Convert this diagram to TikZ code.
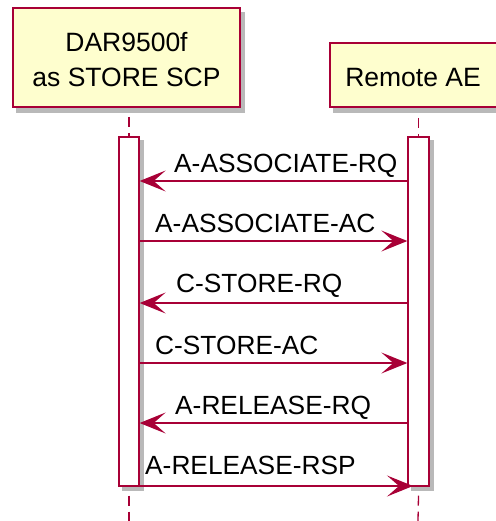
\documentclass[tikz,border=0pt]{standalone}
\usepackage{fontspec}
\setmainfont{Liberation Sans}
\usetikzlibrary{arrows.meta,backgrounds}
\definecolor{pborder}{HTML}{A80036}
\definecolor{pfill}{HTML}{FEFECE}
\definecolor{shadowgray}{HTML}{A8A8A8}
\begin{document}
\begin{tikzpicture}[x=1pt,y=-1pt,
  part/.style={draw=pborder,fill=pfill,line width=1.6pt,inner sep=0pt},
  actbar/.style={draw=pborder,fill=white,line width=1.3pt,inner sep=0pt},
  shade/.style={fill=shadowgray,opacity=0.8},
  life/.style={draw=pborder,line width=1.3pt,dash pattern=on 10pt off 6pt},
  msg/.style={draw=pborder,line width=1.3pt,
    -{Stealth[length=26pt,width=21pt,inset=12pt,fill=pborder]}},
  lbl/.style={font=\fontsize{26.3}{32}\selectfont,text=black,inner sep=0pt,anchor=base west},
  hdr/.style={font=\fontsize{26.5}{32}\selectfont,text=black,inner sep=0pt,anchor=base}]
\useasboundingbox (0,0) rectangle (495,521);

% participants
\node[part,minimum width=227pt,minimum height=99pt] (pA) at (126.5,57.5) {};
\node[part,minimum width=176pt,minimum height=64pt] (pB) at (418,75) {};
\node[hdr] (tA1) at (126.5,52) {DAR9500f};
\node[hdr] (tA2) at (126.5,87) {as STORE SCP};
\node[hdr] (tB) at (413,87) {Remote AE};

% activation bars
\node[actbar,minimum width=20pt,minimum height=349pt] (lb) at (129,311.5) {};
\node[actbar,minimum width=21pt,minimum height=349pt] (rb) at (418.5,311.5) {};

% shadows
\begin{scope}[on background layer]
  \fill[shade] ([shift={(4,5)}]pA.south west) rectangle ([shift={(4,5)}]pA.north east);
  \fill[shade] ([shift={(4,5)}]pB.south west) rectangle ([shift={(4,5)}]pB.north east);
  \fill[shade] ([shift={(4,4)}]lb.south west) rectangle ([shift={(4,4)}]lb.north east);
  \fill[shade] ([shift={(4,4)}]rb.south west) rectangle ([shift={(4,4)}]rb.north east);
\end{scope}

% lifelines
\coordinate (endA) at (129,521);
\coordinate (endB) at (418,521);
\draw[life] (pA.south -| lb.center) ++(0,9) -- (lb.north);
\draw[life] (pB.south -| rb.center) ++(0,10) -- (rb.north);
\draw[life] (lb.south) ++(0,9) -- (endA);
\draw[life] (rb.south) ++(0,9) -- (endB);

% message rows
\coordinate (y1) at (0,181);
\coordinate (y2) at (0,241);
\coordinate (y3) at (0,303);
\coordinate (y4) at (0,363);
\coordinate (y5) at (0,423);
\coordinate (y6) at (0,486);
\coordinate (tip6) at (413,486);

\draw[msg] (rb.west |- y1) -- (lb.east |- y1);
\draw[msg] (lb.east |- y2) -- (rb.west |- y2);
\draw[msg] (rb.west |- y3) -- (lb.east |- y3);
\draw[msg] (lb.east |- y4) -- (rb.west |- y4);
\draw[msg] (rb.west |- y5) -- (lb.east |- y5);
\draw[msg] (lb.east |- y6) -- (tip6);

% labels
\node[lbl] (m1) at (174,173) {A-ASSOCIATE-RQ};
\node[lbl] (m2) at (155,232) {A-ASSOCIATE-AC};
\node[lbl] (m3) at (176,292) {C-STORE-RQ};
\node[lbl] (m4) at (155,354) {C-STORE-AC};
\node[lbl] (m5) at (175,414) {A-RELEASE-RQ};
\node[lbl] (m6) at (145,474) {A-RELEASE-RSP};
\end{tikzpicture}
\end{document}
